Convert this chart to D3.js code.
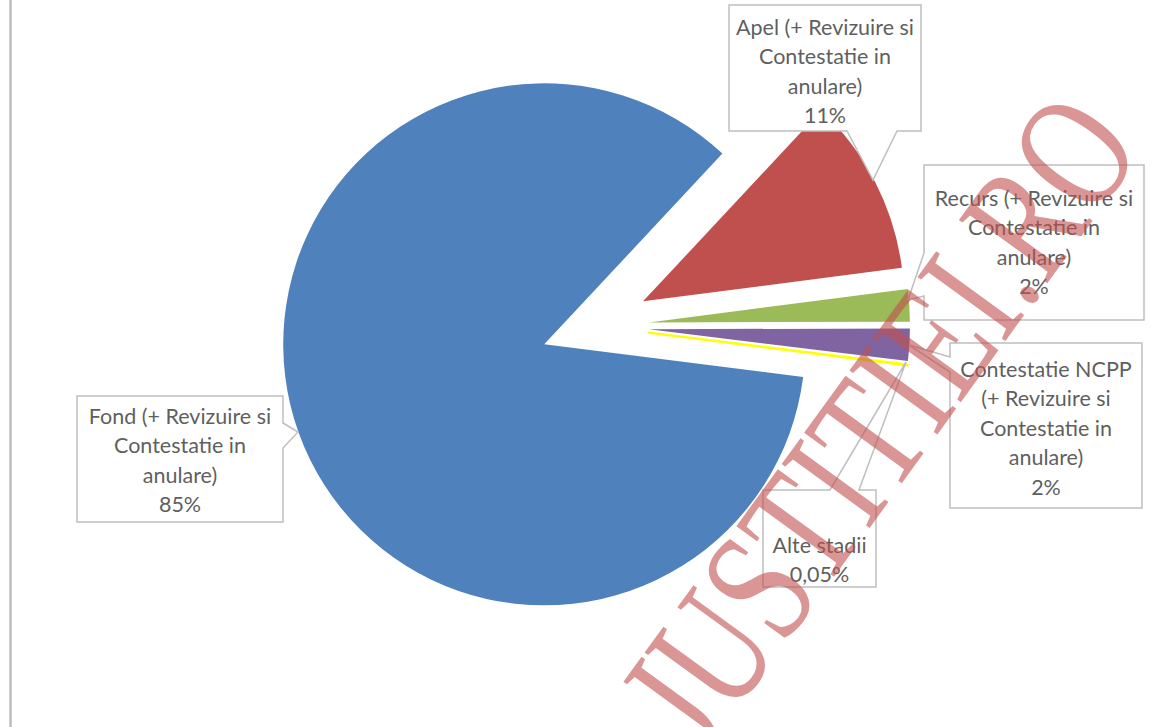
<!DOCTYPE html>
<html>
<head>
<meta charset="utf-8">
<script src="https://cdn.jsdelivr.net/npm/d3@7"></script>
<style>
  html, body { margin: 0; padding: 0; background: #ffffff; }
  svg { display: block; }
</style>
</head>
<body>
<svg id="chart" width="1169" height="727"></svg>
<script>
// ---------- data ----------
const categories = [
  "Fond (+ Revizuire si Contestatie in anulare)",
  "Apel (+ Revizuire si Contestatie in anulare)",
  "Recurs (+ Revizuire si Contestatie in anulare)",
  "Contestatie NCPP (+ Revizuire si Contestatie in anulare)",
  "Alte stadii"
];
const categoryLines = [
  ["Fond (+ Revizuire si", "Contestatie in", "anulare)"],
  ["Apel (+ Revizuire si", "Contestatie in", "anulare)"],
  ["Recurs (+ Revizuire si", "Contestatie in", "anulare)"],
  ["Contestatie NCPP", "(+ Revizuire si", "Contestatie in", "anulare)"],
  ["Alte stadii"]
];
const values = [85, 11, 2, 2, 0.05];
const watermarkText = "JUSTITIEI.RO";

// ---------- layout / style ----------
const colors = ["#4F81BD", "#C0504D", "#9BBB59", "#8064A2", "#FFFF00"];
const center = { x: 595, y: 326 };
const radius = 261;
const explode = 54;
const startDeg = 97.2;

// label boxes: x, y, w, h, first line centre y, wedge polygon [base1, tip, base2]
const boxes = [
  { x: 77,  y: 396, w: 206, h: 126, ty: 416, wedge: [[283, 423], [298, 432], [283, 448]], side: "right" },
  { x: 729, y: 5,   w: 192, h: 126, ty: 27,  wedge: [[897, 131], [873, 180], [847, 131]], side: "bottom" },
  { x: 924, y: 165, w: 220, h: 155, ty: 198, wedge: [[924, 296], [908, 300], [924, 253]], side: "left" },
  { x: 950, y: 343, w: 192, h: 165, ty: 369, wedge: [[950, 372], [909, 345], [950, 357]], side: "left" },
  { x: 763, y: 490, w: 113, h: 97,  ty: 545, wedge: [[830, 490], [906, 362], [859, 490]], side: "top" }
];
const lineStep = 29.6;

const fmt = v => (v < 1 ? v.toFixed(2).replace(".", ",") : d3.format("d")(v)) + "%";

const svg = d3.select("#chart");

// left frame line
svg.append("rect").attr("x", 9).attr("y", 0).attr("width", 3).attr("height", 727)
  .attr("fill", "#d0d0d0");
svg.append("line").attr("x1", 10.5).attr("x2", 10.5).attr("y1", 0).attr("y2", 727)
  .attr("stroke", "#b8b8b8").attr("stroke-width", 1);

// ---------- pie ----------
const toRad = d => d * Math.PI / 180;
const pie = d3.pie().sort(null).value(d => d)
  .startAngle(toRad(startDeg)).endAngle(toRad(startDeg) + 2 * Math.PI);
const arcs = pie(values);
const arc = d3.arc().innerRadius(0).outerRadius(radius);

const g = svg.append("g").attr("transform", `translate(${center.x},${center.y})`);
g.selectAll("path.slice").data(arcs).enter().append("path")
  .attr("class", "slice")
  .attr("d", arc)
  .attr("fill", (d, i) => colors[i])
  .attr("stroke", (d, i) => i === 4 ? colors[i] : "none")
  .attr("stroke-width", (d, i) => i === 4 ? 2.2 : 0)
  .attr("stroke-linejoin", "round")
  .attr("transform", d => {
    const mid = (d.startAngle + d.endAngle) / 2;
    return `translate(${explode * Math.sin(mid)},${-explode * Math.cos(mid)})`;
  });

// ---------- callout labels ----------
function calloutPath(b) {
  const { x, y, w, h, wedge, side } = b;
  const x2 = x + w, y2 = y + h;
  const p = d3.path();
  p.moveTo(x, y);
  if (side === "top") { p.lineTo(wedge[0][0], y); p.lineTo(...wedge[1]); p.lineTo(wedge[2][0], y); }
  p.lineTo(x2, y);
  if (side === "right") { p.lineTo(x2, wedge[0][1]); p.lineTo(...wedge[1]); p.lineTo(x2, wedge[2][1]); }
  p.lineTo(x2, y2);
  if (side === "bottom") { p.lineTo(wedge[0][0], y2); p.lineTo(...wedge[1]); p.lineTo(wedge[2][0], y2); }
  p.lineTo(x, y2);
  if (side === "left") { p.lineTo(x, wedge[0][1]); p.lineTo(...wedge[1]); p.lineTo(x, wedge[2][1]); }
  p.closePath();
  return p.toString();
}

const labels = svg.append("g");
boxes.forEach((b, i) => {
  labels.append("path").attr("d", calloutPath(b))
    .attr("fill", "#ffffff").attr("stroke", "#bfbfbf").attr("stroke-width", 1.5);
  const lines = categoryLines[i].concat([fmt(values[i])]);
  const t = labels.append("text")
    .attr("font-family", "Lato, 'Open Sans', sans-serif")
    .attr("font-size", 21.5)
    .attr("fill", "#5f5f5f")
    .attr("text-anchor", "middle");
  lines.forEach((ln, k) => {
    t.append("tspan").attr("x", b.x + b.w / 2).attr("y", b.ty + k * lineStep + 7.5).text(ln);
  });
});

// ---------- watermark ----------
svg.append("text")
  .attr("font-family", "'Liberation Serif', 'DejaVu Serif', serif")
  .attr("font-size", 136)
  .attr("fill", "#C0504D")
  .attr("fill-opacity", 0.6)
  .attr("text-anchor", "start")
  .attr("transform", "translate(703,757) rotate(-54) scale(0.9,1.22)")
  .text(watermarkText);
</script>
</body>
</html>
